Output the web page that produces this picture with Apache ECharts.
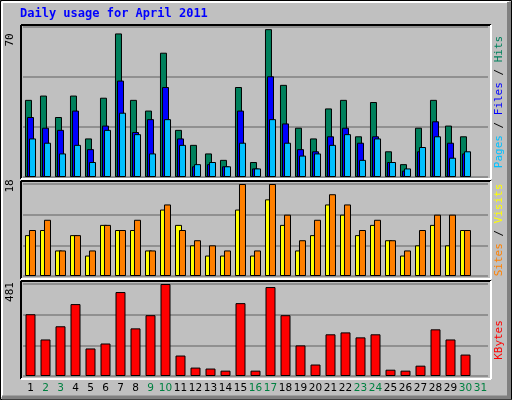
<!DOCTYPE html>
<html><head><meta charset="utf-8">
<script src="https://cdn.jsdelivr.net/npm/echarts@6/dist/echarts.min.js"></script>
<style>html,body{margin:0;padding:0;background:#fff}#c{width:512px;height:400px}</style>
</head><body><div id="c"></div>
<script>
const days = ['1','2','3','4','5','6','7','8','9','10','11','12','13','14','15','16','17','18','19','20','21','22','23','24','25','26','27','28','29','30','31'];
const weekend = ['2','3','9','10','16','17','23','24','30','31'];
const hits  = [36,38,28,38,18,37,67,36,31,58,22,15,11,8,42,7,69,43,23,18,32,36,19,35,12,6,23,36,24,19,null];
const files = [28,23,22,31,13,24,45,21,27,42,18,5,6,5,31,4,47,25,13,12,19,23,16,19,7,3,12,26,16,11,null];
const pages = [18,16,11,15,7,22,30,20,11,27,15,6,7,5,16,4,27,16,10,11,15,20,8,18,7,4,14,19,9,12,null];
const sites  = [8,9,5,8,4,10,9,9,5,13,10,6,4,4,13,4,15,10,5,8,14,12,8,10,7,4,6,10,6,9,null];
const visits = [9,11,5,8,5,10,9,11,5,14,9,7,6,5,18,5,18,12,7,11,16,14,9,11,7,5,9,12,12,9,null];
const kbytes = [323,191,260,376,144,170,439,249,318,481,107,44,39,28,381,28,465,318,160,60,218,228,202,218,33,28,54,244,191,112,null];
const maxTop = 70, maxMid = 18, maxBot = 481;

const chart = echarts.init(document.getElementById('c'));
const L = 23, W = 465;
const grids = [
  {left:L, width:W, top:27, height:150},
  {left:L, width:W, top:184, height:92},
  {left:L, width:W, top:284, height:92}
];
const maxes = [maxTop, maxMid, maxBot];
const bs = {borderColor:'#000', borderWidth:1};
function xa(i){ return {type:'category', gridIndex:i, data:days, boundaryGap:true,
  axisLine:{show:false}, axisTick:{show:false}, splitLine:{show:false},
  axisLabel: i===2 ? {show:true, interval:0, margin:7, fontFamily:'DejaVu Sans', fontSize:10.5,
     color:(v)=> weekend.includes(v)?'#008040':'#000'} : {show:false}}; }
function ya(i){ return {type:'value', gridIndex:i, min:0, max:maxes[i], interval:maxes[i]/3,
  axisLine:{show:false}, axisTick:{show:false}, axisLabel:{show:false},
  splitLine:{show:true, lineStyle:{color:'#808080', width:1.5}}}; }
function rectFrame(x,y,w,h){
  return [
    {type:'line', shape:{x1:x,y1:y,x2:x+w,y2:y}, style:{stroke:'#000',lineWidth:2}, z:10},
    {type:'line', shape:{x1:x,y1:y,x2:x,y2:y+h}, style:{stroke:'#000',lineWidth:2}, z:10},
    {type:'line', shape:{x1:x+w,y1:y,x2:x+w,y2:y+h}, style:{stroke:'#fff',lineWidth:2}, z:10},
    {type:'line', shape:{x1:x,y1:y+h,x2:x+w,y2:y+h}, style:{stroke:'#fff',lineWidth:2}, z:10}
  ];
}
const mono = 'DejaVu Sans Mono';
const rf = '11px '+mono;
chart.setOption({
  backgroundColor:'#C0C0C0',
  animation:false,
  grid: grids,
  xAxis:[xa(0),xa(1),xa(2)],
  yAxis:[ya(0),ya(1),ya(2)],
  series:[
    {type:'bar', xAxisIndex:0, yAxisIndex:0, data:hits, barWidth:7, barGap:'-71%', itemStyle:{color:'#00805C',...bs}},
    {type:'bar', xAxisIndex:0, yAxisIndex:0, data:files, barWidth:7, barGap:'-71%', itemStyle:{color:'#0000FF',...bs}},
    {type:'bar', xAxisIndex:0, yAxisIndex:0, data:pages, barWidth:7, barGap:'-71%', itemStyle:{color:'#00C0FF',...bs}},
    {type:'bar', xAxisIndex:1, yAxisIndex:1, data:sites, barWidth:7, barGap:'-43%', itemStyle:{color:'#FFFF00',...bs}},
    {type:'bar', xAxisIndex:1, yAxisIndex:1, data:visits, barWidth:7, barGap:'-43%', itemStyle:{color:'#FF8000',...bs}},
    {type:'bar', xAxisIndex:2, yAxisIndex:2, data:kbytes, barWidth:10, itemStyle:{color:'#FF0000',...bs}}
  ],
  graphic:[
    {type:'rect', shape:{x:0.5,y:0.5,width:511,height:399}, style:{fill:null, stroke:'#000', lineWidth:1}, z:20},
    {type:'line', shape:{x1:2,y1:2,x2:509,y2:2}, style:{stroke:'#fff',lineWidth:2}, z:20},
    {type:'line', shape:{x1:2,y1:2,x2:2,y2:397}, style:{stroke:'#fff',lineWidth:2}, z:20},
    {type:'line', shape:{x1:509,y1:2,x2:509,y2:398}, style:{stroke:'#808080',lineWidth:4}, z:20},
    {type:'line', shape:{x1:2,y1:397.5,x2:511,y2:397.5}, style:{stroke:'#808080',lineWidth:4}, z:20},
    ...rectFrame(21,25,470,154),
    ...rectFrame(21,181,470,98),
    ...rectFrame(21,281,470,98),
    {type:'text', left:20, top:8, style:{text:'Daily usage for April 2011', fill:'#0000FF', font:'bold 12px '+mono}},
    {type:'text', x:10, y:40, rotation:Math.PI/2, style:{text:'70', fill:'#000', font:rf, align:'center', verticalAlign:'middle'}},
    {type:'text', x:10, y:186, rotation:Math.PI/2, style:{text:'18', fill:'#000', font:rf, align:'center', verticalAlign:'middle'}},
    {type:'text', x:10, y:292, rotation:Math.PI/2, style:{text:'481', fill:'#000', font:rf, align:'center', verticalAlign:'middle'}},
    {type:'text', x:499, y:102, rotation:Math.PI/2, style:{
      text:'{p|Pages}{k| / }{f|Files}{k| / }{h|Hits}', align:'center', verticalAlign:'middle', font:rf,
      rich:{p:{fill:'#00C0FF',font:rf},f:{fill:'#0000FF',font:rf},h:{fill:'#00805C',font:rf},k:{fill:'#000',font:rf}}}},
    {type:'text', x:499, y:230, rotation:Math.PI/2, style:{
      text:'{s|Sites}{k| / }{v|Visits}', align:'center', verticalAlign:'middle', font:rf,
      rich:{s:{fill:'#FF8000',font:rf},v:{fill:'#FFFF00',font:rf},k:{fill:'#000',font:rf}}}},
    {type:'text', x:499, y:340, rotation:Math.PI/2, style:{text:'KBytes', fill:'#FF0000', font:rf, align:'center', verticalAlign:'middle'}}
  ]
});
</script></body></html>
